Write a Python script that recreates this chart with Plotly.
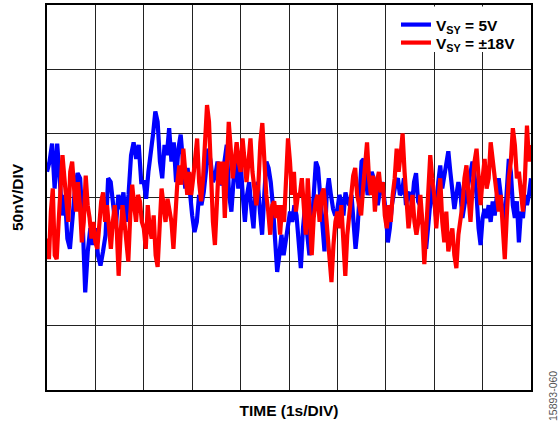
import numpy as np
import plotly.graph_objects as go

# Time window edges (s) for each 2-s block of samples
seg_edges = [0, 2, 4, 6, 8, 10]

# V_SY = 5V noise (nV), read per 2-s block
blue_s0 = [20, 28, 42, 7, 42, 15, -14, 2, -32, -40, -19, 7, 19, 15, -19, -74, -42, -24, -37, -24,
           -45, -53, -42, -29, 15, 12, -6, -24, 2, -9, 4, -19, 2, 33, 43, 30, 41, 12]
blue_s1 = [12, -1, 20, 33, 49, 67, 59, 28, 15, 41, 33, 54, 28, 43, 12, 38, 49, 28, 7, 23,
           2, -14, -27, -19, 2, -6, 4, 23, 38, 28, 12, 17, 28, 10, 12, 28, 41, 2, -11, 15, 28, 7]
blue_s2 = [28, 2, -19, 2, 12, -9, -24, 7, 12, -11, -29, 2, 28, 23, 12, -6, -29, -58, -45, -29,
           -45, -35, -24, -11, -19, -6, -14, -32, -55, -24, -6, -29, -45, -24, 2, 28, 23, 2, -24, -42,
           2, 15, 2, -9, -14]
blue_s3 = [-9, 2, -3, -14, 4, -3, -6, 2, -16, -40, -24, 2, 28, 30, 12, 2, 7, 20, 15, 2,
           -6, 4, 12, 2, -11, -35, -24, -6, 2, 12, 15, 2, 4, 15, -6, 2, 4, -6, 12, 19,
           -3, -6, -19, -24, -40, -19, 2, 12]
blue_s4 = [-3, -16, 12, 25, 7, 17, 28, 36, 20, 2, -9, 2, 12, 4, -16, -6, 2, 10, 17, 28,
           17, 2, -24, -37, -16, -9, -16, -6, -19, -3, -14, 2, 15, 2, -14, -19, 2, 30, 20, -6,
           -16, -3, -35, -11, -16, 2, -6, 2, 15]

# V_SY = ±18V noise (nV), read per 2-s block
red_s0 = [-32, -48, -11, 7, -45, -48, -19, 2, 33, 15, -6, -19, 20, 28, 7, -11, 12, -6, -35, -19,
          17, -6, -16, -32, -19, -35, -40, -19, -3, 4, -19, -6, -29, -40, -19, -6, -24, -61, -29, -6,
          -19, -40, -50, -14, 10, -6, -19, 2, -3, -19]
red_s1 = [-24, -40, -6, -24, -32, -14, -45, -54, -19, 7, -6, -19, -1, -9, -19, -40, -6, 12, 25, 10,
          38, 17, 2, 20, 2, 15, 33, 46, 12, -3, 15, 41, 72, 59, 15, -19, -37, 2, 28, 10,
          28, -16, 28, 59, 38, 15, 28, 43, 28]
red_s2 = [20, 46, 28, 12, 28, 46, 20, 7, -6, 10, 43, 58, 28, 2, -11, -29, -6, -3, -16, -6,
          -29, -6, -19, 15, 46, 28, 2, 20, -11, 2, 2, 15, -6, -29, 15, -19, -45, -16, -3, 2,
          -19, 2, 7, -9, -29, -45, -66, -37, -19]
red_s3 = [-11, -24, -6, -32, -61, -29, -11, 2, 17, 23, 2, -6, -14, 7, 28, 43, 15, 2, 17, -11,
          12, 20, 4, 12, -14, -24, -6, -19, 2, 15, 38, 20, 33, 50, 20, -6, -24, -11, 2, -19,
          -29, -19, 2, -19, -52, -24, 7, 33, 15]
red_s4 = [2, -24, -6, 15, -19, -35, -11, -42, -32, -24, -45, -55, -29, -19, -6, 15, 25, 2, -19, 7,
          28, 38, 15, -6, 15, 30, 7, 15, 43, 28, 15, 2, -11, 2, -24, -48, -14, 15, 28, 54,
          41, 15, 20, 7, -11, 15, 56, 28, 41]

sub_style = 'style="font-size:88%"'
series_names = [f"V<sub {sub_style}>SY</sub> = 5V", f"V<sub {sub_style}>SY</sub> = ±18V"]
series_colors = ["#0000FF", "#FF0000"]


def build(segments):
    ts, vs = [], []
    last = len(segments) - 1
    for k, seg in enumerate(segments):
        t = np.linspace(seg_edges[k], seg_edges[k + 1], len(seg), endpoint=(k == last))
        ts.append(t)
        vs.append(np.array(seg, dtype=float))
    return np.concatenate(ts), np.concatenate(vs)


tb, vb = build([blue_s0, blue_s1, blue_s2, blue_s3, blue_s4])
tr, vr = build([red_s0, red_s1, red_s2, red_s3, red_s4])

fig = go.Figure()
fig.add_trace(go.Scatter(x=tb, y=vb, mode="lines", name=series_names[0], legend="legend",
                         line=dict(color=series_colors[0], width=4.2)))
fig.add_trace(go.Scatter(x=tr, y=vr, mode="lines", name=series_names[1], legend="legend2",
                         line=dict(color=series_colors[1], width=4.2)))

font_family = "Liberation Sans, Arial, sans-serif"
legend_font = dict(size=15.5, family=font_family, color="black", weight="bold")
leg_x = (396 - 47) / 484

fig.update_layout(
    width=558, height=425,
    margin=dict(l=47, r=27, t=5, b=35),
    paper_bgcolor="white", plot_bgcolor="white",
    font=dict(family=font_family, color="black"),
    showlegend=True,
    legend=dict(x=leg_x, xanchor="left", y=(390 - 8) / 385, yanchor="top",
                bgcolor="rgba(0,0,0,0)", borderwidth=0, font=legend_font,
                itemwidth=30),
    legend2=dict(x=leg_x, xanchor="left", y=(390 - 26) / 385, yanchor="top",
                 bgcolor="rgba(0,0,0,0)", borderwidth=0, font=legend_font,
                 itemwidth=30),
    xaxis=dict(range=[0, 10], dtick=1, showticklabels=False, ticks="",
               showgrid=True, gridcolor="#222222", gridwidth=1.3, zeroline=False,
               showline=True, linecolor="black", linewidth=2, mirror=True,
               title=dict(text="<b>TIME (1s/DIV)</b>", standoff=14,
                          font=dict(size=15.5, family=font_family, color="black")),
               automargin=False),
    yaxis=dict(range=[-150, 150], dtick=50, showticklabels=False, ticks="",
               showgrid=True, gridcolor="#222222", gridwidth=1.3, zeroline=False,
               showline=True, linecolor="black", linewidth=2, mirror=True,
               title=dict(text="<b>50nV/DIV</b>", standoff=18,
                          font=dict(size=15.5, family=font_family, color="black")),
               automargin=False),
)

# white backing box behind the legend entries
fig.add_shape(type="rect", xref="paper", yref="paper", layer="above",
              x0=leg_x, x1=(529.5 - 47) / 484, y0=(390 - 52) / 385, y1=(390 - 6.5) / 385,
              fillcolor="white", line=dict(width=0))

fig.add_annotation(text="15893-060", xref="paper", yref="paper",
                   x=1.0, xanchor="center", xshift=22, y=(390 - 396) / 385, yanchor="middle",
                   textangle=-90, showarrow=False,
                   font=dict(size=10.5, family=font_family, color="#555555"))

fig.write_html("out.html", config={"displayModeBar": False},
               post_script="document.body.style.margin='0';")
